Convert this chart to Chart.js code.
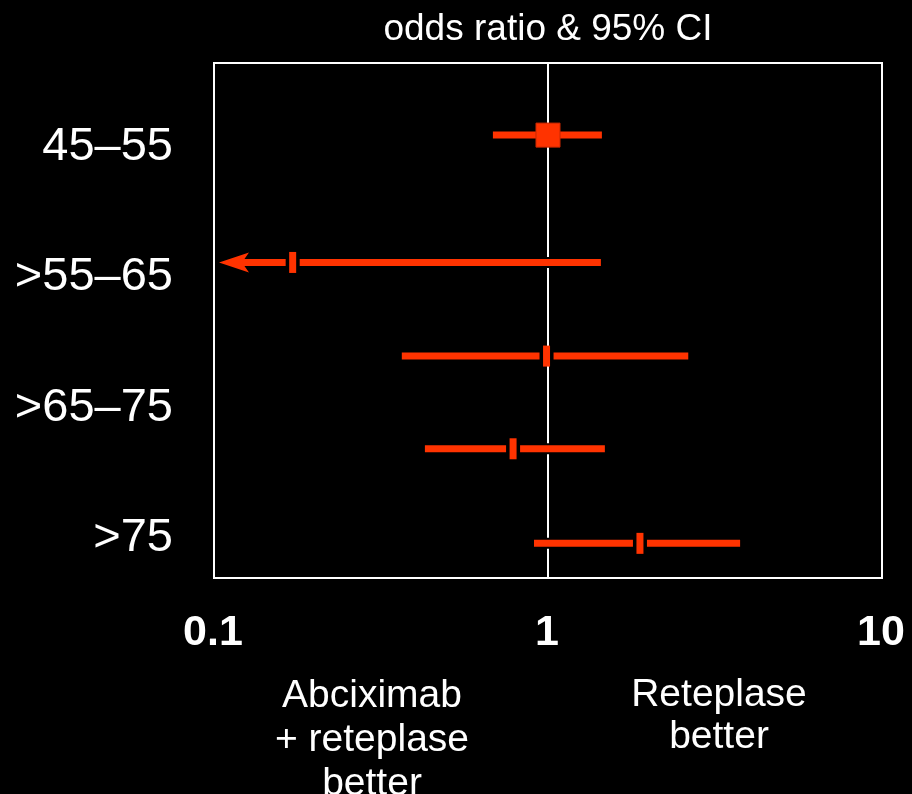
<!DOCTYPE html>
<html>
<head>
<meta charset="utf-8">
<title>odds ratio & 95% CI</title>
<script src="https://cdn.jsdelivr.net/npm/chart.js@4/dist/chart.umd.min.js"></script>
<style>
  html, body { margin: 0; padding: 0; background: #000; }
  #wrap { width: 912px; height: 794px; }
</style>
</head>
<body>
<div id="wrap"><canvas id="forest" width="912" height="794"></canvas></div>
<script>
// Age groups shown on the left
const groupLabels = ['45–55', '>55–65', '>65–75', '>75'];
// Vertical position of each group label on the row scale
const labelPos = [4.65, 3.26, 1.86, 0.47];
// Vertical position of each estimate row on the row scale
const rowPos = [4.73, 3.37, 2.37, 1.38, 0.37];
// Odds ratios with lower / upper 95% limits (null = below the axis range)
const oddsRatio = [1.00, 0.172, 0.99, 0.786, 1.885];
const ciLow = [0.684, null, 0.365, 0.428, 0.908];
const ciHigh = [1.45, 1.44, 2.63, 1.48, 3.76];
// Axis ticks and captions
const xTicks = [0.1, 1, 10];
const leftCaption = ['Abciximab', '+ reteplase', 'better'];
const rightCaption = ['Reteplase', 'better'];
const chartTitle = 'odds ratio & 95% CI';

const ORANGE = '#ff3300';
const FONT = '"Liberation Sans", Arial, Helvetica, sans-serif';

const forestPlugin = {
  id: 'forest',
  beforeDraw(chart) {
    const ctx = chart.ctx;
    ctx.save();
    ctx.fillStyle = '#000';
    ctx.fillRect(0, 0, chart.width, chart.height);
    ctx.restore();
  },
  beforeDatasetsDraw(chart) {
    const { ctx, chartArea: a, scales: { x, y } } = chart;
    ctx.save();
    // line of no effect
    const x1 = Math.round(x.getPixelForValue(1));
    ctx.strokeStyle = '#fff';
    ctx.lineWidth = 2;
    ctx.beginPath();
    ctx.moveTo(x1, a.top);
    ctx.lineTo(x1, a.bottom);
    ctx.stroke();

    // confidence intervals
    ctx.lineCap = 'butt';
    rowPos.forEach((r, i) => {
      const py = y.getPixelForValue(r);
      const open = ciLow[i] === null;
      const xl = open ? a.left + 5 : x.getPixelForValue(ciLow[i]);
      const xr = x.getPixelForValue(ciHigh[i]);
      const xs = open ? xl + 22 : xl;
      ctx.strokeStyle = '#000';
      ctx.lineWidth = 11;
      ctx.beginPath();
      ctx.moveTo(xs, py);
      ctx.lineTo(xr, py);
      ctx.stroke();
      ctx.strokeStyle = ORANGE;
      ctx.lineWidth = 7;
      ctx.beginPath();
      ctx.moveTo(xs, py);
      ctx.lineTo(xr, py);
      ctx.stroke();
      if (open) {
        // arrow head: interval continues below the axis range
        ctx.fillStyle = ORANGE;
        ctx.beginPath();
        ctx.moveTo(xl, py);
        ctx.lineTo(xl + 30, py - 10);
        ctx.lineTo(xl + 23, py);
        ctx.lineTo(xl + 30, py + 10);
        ctx.closePath();
        ctx.fill();
      }
      // small black gap around tick-style estimates
      if (i > 0) {
        const px = x.getPixelForValue(oddsRatio[i]);
        ctx.fillStyle = '#000';
        ctx.fillRect(px - 7, py - 5.5, 14, 11);
      }
    });
    ctx.restore();
  },
  afterDraw(chart) {
    const { ctx, chartArea: a, scales: { x, y } } = chart;
    ctx.save();
    // frame
    ctx.strokeStyle = '#fff';
    ctx.lineWidth = 2;
    ctx.strokeRect(a.left, a.top, a.right - a.left, a.bottom - a.top);

    ctx.fillStyle = '#fff';
    ctx.textBaseline = 'alphabetic';

    // title
    ctx.font = '37px ' + FONT;
    ctx.textAlign = 'center';
    ctx.fillText(chartTitle, x.getPixelForValue(1), 40);

    // group labels
    ctx.font = '47px ' + FONT;
    ctx.textAlign = 'right';
    groupLabels.forEach((t, i) => {
      ctx.fillText(t, a.left - 41, y.getPixelForValue(labelPos[i]) + 17);
    });

    // x tick labels
    ctx.font = 'bold 43px ' + FONT;
    ctx.textAlign = 'center';
    xTicks.forEach(v => {
      ctx.fillText(String(v), x.getPixelForValue(v) - 1, a.bottom + 67);
    });

    // captions under the axis
    ctx.font = '39px ' + FONT;
    leftCaption.forEach((t, i) => ctx.fillText(t, 372, 707 + i * 44));
    rightCaption.forEach((t, i) => ctx.fillText(t, 719, 706 + i * 42));
    ctx.restore();
  }
};

new Chart(document.getElementById('forest'), {
  type: 'scatter',
  data: {
    datasets: [{
      data: oddsRatio.map((v, i) => ({ x: v, y: rowPos[i] })),
      showLine: false,
      pointStyle: c => (c.dataIndex === 0 ? 'rect' : 'line'),
      pointRadius: c => (c.dataIndex === 0 ? 17 : 10.5),
      pointRotation: c => (c.dataIndex === 0 ? 0 : 90),
      pointBorderWidth: c => (c.dataIndex === 0 ? 1 : 7),
      pointBackgroundColor: ORANGE,
      pointBorderColor: c => (c.dataIndex === 0 ? '#c82800' : ORANGE),
      pointHoverRadius: c => (c.dataIndex === 0 ? 17 : 10.5)
    }]
  },
  options: {
    responsive: false,
    animation: false,
    events: [],
    layout: { padding: { left: 214, right: 30, top: 63, bottom: 216 } },
    plugins: { legend: { display: false }, tooltip: { enabled: false }, title: { display: false } },
    scales: {
      x: { type: 'logarithmic', min: 0.1, max: 10, display: false },
      y: { type: 'linear', min: 0, max: 5.5, display: false }
    }
  },
  plugins: [forestPlugin]
});
</script>
</body>
</html>
